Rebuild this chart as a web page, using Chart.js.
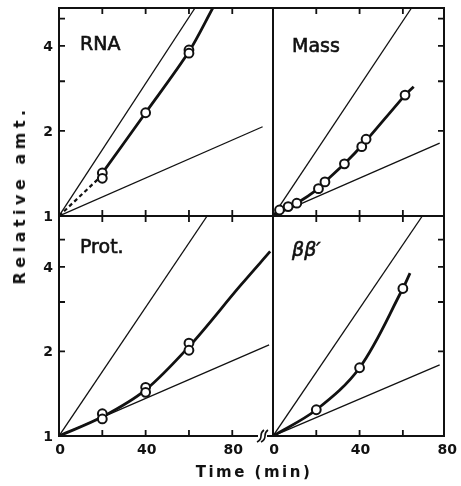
<!DOCTYPE html>
<html><head><meta charset="utf-8">
<script src="https://cdn.jsdelivr.net/npm/chart.js@4.4.1/dist/chart.umd.min.js"></script>
<style>
html,body{margin:0;padding:0;background:#fff;}
#wrap{position:relative;width:461px;height:486px;overflow:hidden;background:#fff;}
canvas{position:absolute;left:0;top:0;}
.title{position:absolute;font-family:"DejaVu Sans";font-weight:bold;color:#111;white-space:nowrap;line-height:1;}
#xt{left:254px;top:472px;font-size:15px;transform:translate(-50%,-50%);letter-spacing:2.5px;}
#yt{left:20px;top:195px;font-size:16px;transform:translate(-50%,-50%) rotate(-90deg);letter-spacing:4.5px;}
</style></head><body>
<div id="wrap">
<canvas id="cRNA" width="461" height="486"></canvas>
<canvas id="cMass" width="461" height="486"></canvas>
<canvas id="cProt" width="461" height="486"></canvas>
<canvas id="cBeta" width="461" height="486"></canvas>
<div class="title" id="xt">Time (min)</div>
<div class="title" id="yt">Relative amt.</div>
</div>
<script>
// ---------- data (time in min, relative amount) ----------
const xTickLabels = [0, 40, 80];
const xTickMarks = [20, 40, 60, 80];
const yTickLabels = [1, 2, 4];
const yTickMarks = [2, 3, 4, 5];

// RNA panel
const rnaObsTime = [20, 20, 40, 60, 60];
const rnaObsAmt = [1.42, 1.36, 2.32, 3.87, 3.77];
const rnaCurveTime = [18, 40, 60, 71];
const rnaCurveAmt = [1.35, 2.32, 3.82, 5.45];
const rnaDashTime = [0, 18];
const rnaDashAmt = [1, 1.35];
const rnaSteepTime = [0, 62.8];
const rnaSteepAmt = [1, 5.45];
const rnaSlowTime = [0, 94];
const rnaSlowAmt = [1, 2.07];

// Mass panel
const massObsTime = [3, 7, 11, 21, 24, 33, 41, 43, 61];
const massObsAmt = [1.05, 1.08, 1.11, 1.25, 1.32, 1.53, 1.76, 1.87, 2.68];
const massCurveTime = [0, 3, 7, 11, 21, 24, 33, 42, 61, 65];
const massCurveAmt = [1, 1.05, 1.08, 1.11, 1.25, 1.32, 1.53, 1.81, 2.68, 2.87];
const massSteepTime = [0, 64];
const massSteepAmt = [1, 5.45];
const massSlowTime = [0, 77];
const massSlowAmt = [1, 1.81];

// Protein panel
const protObsTime = [20, 20, 40, 40, 60, 60];
const protObsAmt = [1.2, 1.15, 1.49, 1.43, 2.14, 2.02];
const protCurveTime = [0, 20, 40, 60, 84, 97.5];
const protCurveAmt = [1, 1.17, 1.46, 2.08, 3.45, 4.54];
const protSteepTime = [0, 68.4];
const protSteepAmt = [1, 6.07];
const protSlowTime = [0, 97];
const protSlowAmt = [1, 2.11];

// beta beta' panel
const betaObsTime = [20, 40, 60];
const betaObsAmt = [1.24, 1.75, 3.35];
const betaCurveTime = [0, 20, 40, 60, 63.3];
const betaCurveAmt = [1, 1.24, 1.75, 3.35, 3.8];
const betaSteepTime = [0, 69];
const betaSteepAmt = [1, 6.07];
const betaSlowTime = [0, 77];
const betaSlowAmt = [1, 1.79];

// ---------- helpers ----------
const pts = (xs, ys) => xs.map((x, i) => ({x: x, y: ys[i]}));
const INK = '#111';

function refLine(xs, ys) {
  return {data: pts(xs, ys), showLine: true, borderColor: INK, borderWidth: 1.3,
          pointRadius: 0, order: 3};
}
function curve(xs, ys, tension, mono) {
  const d = {data: pts(xs, ys), showLine: true, borderColor: INK, borderWidth: 2.8,
          pointRadius: 0, tension: tension, order: 2};
  if (mono) d.cubicInterpolationMode = 'monotone';
  return d;
}
function dashLine(xs, ys) {
  return {data: pts(xs, ys), showLine: true, borderColor: INK, borderWidth: 2.2,
          borderDash: [4, 3], pointRadius: 0, order: 2};
}
function circles(xs, ys) {
  return {data: pts(xs, ys), showLine: false, pointRadius: 4.4, pointBorderWidth: 2,
          pointBackgroundColor: '#fff', pointBorderColor: INK, order: 1};
}

const panelPlugin = {
  id: 'panel',
  afterDatasetsDraw(chart, args, o) {
    const ctx = chart.ctx, a = chart.chartArea;
    const xs = chart.scales.x, ys = chart.scales.y;
    ctx.save();
    ctx.strokeStyle = INK;
    ctx.fillStyle = INK;
    ctx.lineWidth = 2;
    ctx.strokeRect(a.left, a.top, a.right - a.left, a.bottom - a.top);
    const L = 6;
    ctx.lineWidth = 1.8;
    ctx.beginPath();
    xTickMarks.forEach(v => {
      if (v >= xs.max) return;
      const p = xs.getPixelForValue(v);
      ctx.moveTo(p, a.top); ctx.lineTo(p, a.top + L);
      ctx.moveTo(p, a.bottom); ctx.lineTo(p, a.bottom - L);
    });
    yTickMarks.forEach(v => {
      if (v >= ys.max) return;
      const p = ys.getPixelForValue(v);
      if (o.side === 'left') { ctx.moveTo(a.left, p); ctx.lineTo(a.left + L, p); }
      else { ctx.moveTo(a.right, p); ctx.lineTo(a.right - L, p); }
    });
    ctx.stroke();
    ctx.font = 'bold 14px "DejaVu Sans"';
    if (o.yLabels) {
      ctx.textAlign = 'right'; ctx.textBaseline = 'middle';
      yTickLabels.forEach(v => ctx.fillText(String(v), a.left - 6, ys.getPixelForValue(v) + 1));
    }
    if (o.xLabels) {
      ctx.textAlign = 'center'; ctx.textBaseline = 'middle';
      xTickLabels.forEach(v => ctx.fillText(String(v), xs.getPixelForValue(v) + 1, a.bottom + 14));
    }
    if (o.breakMark) {
      const bx = a.right - 11, by = a.bottom;
      ctx.fillStyle = '#fff';
      ctx.fillRect(bx - 4, by - 2, 9, 4);
      ctx.lineWidth = 1.6;
      ctx.beginPath();
      ctx.moveTo(bx - 5, by + 6); ctx.quadraticCurveTo(bx - 1, by + 4, bx - 1, by); ctx.quadraticCurveTo(bx - 1, by - 4, bx + 2, by - 6);
      ctx.moveTo(bx - 1, by + 6); ctx.quadraticCurveTo(bx + 3, by + 4, bx + 3, by); ctx.quadraticCurveTo(bx + 3, by - 4, bx + 6, by - 6);
      ctx.stroke();
    }
    ctx.fillStyle = INK;
    ctx.font = (o.italic ? 'italic ' : '') + '19px "DejaVu Sans"';
    ctx.textAlign = 'left'; ctx.textBaseline = 'middle';
    ctx.lineWidth = 0.6;
    ctx.fillText(o.label, a.left + o.lx, a.top + o.ly);
    ctx.strokeText(o.label, a.left + o.lx, a.top + o.ly);
    ctx.restore();
  }
};

function makeChart(id, datasets, pad, xmax, ymax, opts) {
  return new Chart(document.getElementById(id), {
    type: 'scatter',
    data: {datasets: datasets},
    options: {
      responsive: false, animation: false, events: [],
      layout: {padding: pad},
      scales: {
        x: {type: 'linear', min: 0, max: xmax, display: false},
        y: {type: 'logarithmic', min: 1, max: ymax, display: false}
      },
      plugins: {legend: {display: false}, tooltip: {enabled: false}, panel: opts}
    },
    plugins: [panelPlugin]
  });
}

const LEFT = 59, MIDX = 273, RIGHT = 444, TOP = 8, MIDY = 216, BOT = 436, W = 461, H = 486;
const padTL = {left: LEFT, right: W - MIDX, top: TOP, bottom: H - MIDY};
const padTR = {left: MIDX, right: W - RIGHT, top: TOP, bottom: H - MIDY};
const padBL = {left: LEFT, right: W - MIDX, top: MIDY, bottom: H - BOT};
const padBR = {left: MIDX, right: W - RIGHT, top: MIDY, bottom: H - BOT};
const XMAX_L = 98.8, XMAX_R = 79, YMAX_T = 5.45, YMAX_B = 6.07;

makeChart('cRNA', [
  circles(rnaObsTime, rnaObsAmt),
  curve(rnaCurveTime, rnaCurveAmt, 0.3, false),
  dashLine(rnaDashTime, rnaDashAmt),
  refLine(rnaSteepTime, rnaSteepAmt),
  refLine(rnaSlowTime, rnaSlowAmt)
], padTL, XMAX_L, YMAX_T, {label: 'RNA', lx: 21, ly: 37, side: 'left', yLabels: true});

makeChart('cMass', [
  circles(massObsTime, massObsAmt),
  curve(massCurveTime, massCurveAmt, 0.2, false),
  refLine(massSteepTime, massSteepAmt),
  refLine(massSlowTime, massSlowAmt)
], padTR, XMAX_R, YMAX_T, {label: 'Mass', lx: 19, ly: 39, side: 'right'});

makeChart('cProt', [
  circles(protObsTime, protObsAmt),
  curve(protCurveTime, protCurveAmt, 0.4, true),
  refLine(protSteepTime, protSteepAmt),
  refLine(protSlowTime, protSlowAmt)
], padBL, XMAX_L, YMAX_B, {label: 'Prot.', lx: 21, ly: 32, side: 'left', yLabels: true, xLabels: true, breakMark: true});

makeChart('cBeta', [
  circles(betaObsTime, betaObsAmt),
  curve(betaCurveTime, betaCurveAmt, 0.35, false),
  refLine(betaSteepTime, betaSteepAmt),
  refLine(betaSlowTime, betaSlowAmt)
], padBR, XMAX_R, YMAX_B, {label: 'ββ′', lx: 19, ly: 35, side: 'right', xLabels: true, italic: true});
</script>
</body></html>
